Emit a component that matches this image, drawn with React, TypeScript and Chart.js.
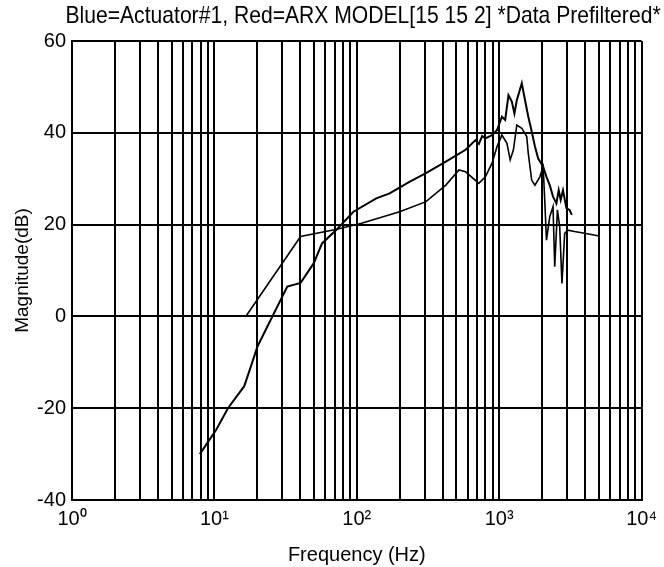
import { useEffect, useRef } from "react";
import { Chart, registerables } from "chart.js";

Chart.register(...registerables);

// Measured actuator response (Hz, dB)
const FREQ_ACTUATOR = [
  7.9, 10.3, 12.45, 16.2, 18.0, 20.1, 32.5, 40.3, 49.9, 57.0, 72.5, 94.7, 137, 170, 234, 306, 422, 581,
  682, 720, 759, 800, 891, 966, 1045, 1102, 1162, 1227, 1279, 1330, 1441, 1519, 1601, 1672, 1783, 1879,
  2036, 2148, 2265, 2388, 2523, 2618, 2704, 2806, 2964, 3120, 3238,
];
const MAG_ACTUATOR = [
  -30.0, -24.7, -20.0, -15.2, -11.0, -6.5, 6.5, 7.3, 11.6, 15.9, 19.0, 22.8, 25.7, 26.8, 29.3, 31.2, 33.7, 36.3,
  38.4, 37.6, 39.3, 38.8, 39.5, 40.6, 43.5, 42.8, 48.2, 46.8, 44.2, 47.1, 50.8, 47.1, 43.5, 41.0, 37.0, 34.4,
  32.6, 30.4, 28.6, 26.1, 24.6, 27.5, 25.4, 27.5, 23.6, 23.2, 22.1,
];

// ARX model response (Hz, dB)
const FREQ_MODEL = [
  16.7, 40.3, 72.5, 108, 200, 306, 422, 522, 581, 719, 800, 891, 966, 1045, 1133, 1195, 1259, 1330, 1441,
  1561, 1601, 1691, 1783, 1931, 2036, 2094, 2148, 2265, 2388, 2455, 2564, 2661, 2760, 2884, 3041, 3381,
  3971, 5047,
];
const MAG_MODEL = [
  0.1, 17.4, 19.0, 20.3, 22.8, 25.0, 28.6, 31.9, 31.5, 29.0, 30.4, 33.4, 37.0, 39.5, 37.7, 34.1, 36.3, 41.7, 41.0,
  39.2, 35.5, 29.7, 28.6, 30.4, 32.6, 24.6, 16.6, 21.7, 23.9, 10.8, 23.2, 19.5, 7.2, 18.1, 18.8, 18.5,
  18.1, 17.5,
];

// Axis set-up
const DECADES = [1, 10, 100, 1000];
const X_MIN = 1;
const X_MAX = 10000;
const DECADE_LABELS: Record<number, string> = {
  1: "10⁰",
  10: "10¹",
  100: "10²",
  1000: "10³",
  10000: "10⁴",
};
const Y_MIN = -40;
const Y_MAX = 60;
const Y_STEP = 20;

const TITLE = "Blue=Actuator#1, Red=ARX MODEL[15 15 2] *Data Prefiltered*";
const FONT = "'Liberation Sans', Arial, Helvetica, sans-serif";

const titlePlugin = {
  id: "plotTitle",
  afterDraw(chart: Chart) {
    const { ctx } = chart;
    ctx.save();
    ctx.font = `24px ${FONT}`;
    ctx.fillStyle = "#000";
    ctx.textAlign = "center";
    ctx.textBaseline = "alphabetic";
    ctx.translate(363, 23);
    ctx.scale(0.88, 1);
    ctx.fillText(TITLE, 0, 0);
    ctx.restore();
  },
};

export default function App() {
  const canvasRef = useRef<HTMLCanvasElement | null>(null);

  useEffect(() => {
    if (!canvasRef.current) return;
    const toPoints = (xs: number[], ys: number[]) => xs.map((x, i) => ({ x, y: ys[i] }));

    const chart = new Chart(canvasRef.current, {
      type: "line",
      data: {
        datasets: [
          {
            label: "Actuator#1",
            data: toPoints(FREQ_ACTUATOR, MAG_ACTUATOR),
            borderColor: "#000",
            borderWidth: 2,
            pointRadius: 0,
            tension: 0,
          },
          {
            label: "ARX MODEL[15 15 2]",
            data: toPoints(FREQ_MODEL, MAG_MODEL),
            borderColor: "#000",
            borderWidth: 1.6,
            pointRadius: 0,
            tension: 0,
          },
        ],
      },
      options: {
        animation: false,
        responsive: false,
        layout: { padding: { top: 41, right: 16, left: 0, bottom: 0 } },
        plugins: {
          legend: { display: false },
          tooltip: { enabled: false },
          title: { display: false },
        },
        scales: {
          x: {
            type: "logarithmic",
            min: X_MIN,
            max: X_MAX,
            afterBuildTicks: (scale: any) => {
              const ticks: { value: number }[] = [];
              DECADES.forEach((d) => {
                for (let m = 1; m <= 9; m++) ticks.push({ value: d * m });
              });
              ticks.push({ value: X_MAX });
              scale.ticks = ticks;
            },
            afterFit: (scale: any) => {
              scale.height = 67;
            },
            ticks: {
              autoSkip: false,
              maxRotation: 0,
              minRotation: 0,
              padding: 7,
              color: "#000",
              font: { family: FONT, size: 20 },
              callback: (value: any) => DECADE_LABELS[Number(value)] ?? "",
            },
            grid: { color: "#000", lineWidth: 2, drawTicks: false },
            border: { color: "#000", width: 2 },
            title: {
              display: true,
              text: "Frequency (Hz)",
              color: "#000",
              font: { family: FONT, size: 20 },
              padding: { top: 0, bottom: 0 },
            },
          },
          y: {
            type: "linear",
            min: Y_MIN,
            max: Y_MAX,
            afterFit: (scale: any) => {
              scale.width = 72;
            },
            ticks: {
              stepSize: Y_STEP,
              padding: 6,
              color: "#000",
              font: { family: FONT, size: 20 },
            },
            grid: { color: "#000", lineWidth: 2, drawTicks: false },
            border: { color: "#000", width: 2 },
            title: {
              display: true,
              text: "Magnitude(dB)",
              color: "#000",
              font: { family: FONT, size: 19 },
              padding: { top: 11, bottom: 0 },
            },
          },
        },
      },
      plugins: [titlePlugin],
    } as any);

    return () => chart.destroy();
  }, []);

  return (
    <div style={{ position: "absolute", left: 0, top: 0, width: 664, height: 567, background: "#fff" }}>
      <canvas ref={canvasRef} width={664} height={567} style={{ display: "block" }} />
    </div>
  );
}
